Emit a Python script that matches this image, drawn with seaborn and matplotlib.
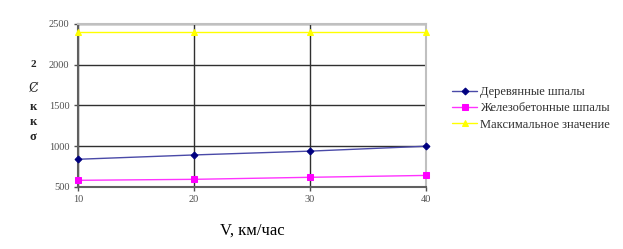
import matplotlib
matplotlib.use("Agg")
import matplotlib.pyplot as plt
import seaborn as sns
import pandas as pd

speeds = [10, 20, 30, 40]
wood = [840, 893, 940, 1000]
concrete = [582, 594, 619, 642]
max_val = [2400, 2400, 2400, 2400]
series_names = ["Деревянные шпалы", "Железобетонные шпалы", "Максимальное значение"]
y_ticks = [500, 1000, 1500, 2000, 2500]

df = pd.DataFrame({
    "V": speeds * 3,
    "val": wood + concrete + max_val,
    "series": [series_names[0]] * 4 + [series_names[1]] * 4 + [series_names[2]] * 4,
})

sns.set_theme(style="white")
plt.rcParams["font.family"] = ["Liberation Serif", "DejaVu Serif"]

fig = plt.figure(figsize=(6.23, 2.49), dpi=100)
ax = fig.add_axes([0.125, 0.249, 0.559, 0.655])

palette = {series_names[0]: "#000080", series_names[1]: "#ff00ff", series_names[2]: "#ffff00"}
line_colors = {series_names[0]: "#4a4aa8", series_names[1]: "#ff33ff", series_names[2]: "#ffff00"}
markers = {series_names[0]: "D", series_names[1]: "s", series_names[2]: "^"}
sizes = {series_names[0]: 3.5, series_names[1]: 4.5, series_names[2]: 5}

for name in series_names:
    sub = df[df["series"] == name]
    sns.lineplot(data=sub, x="V", y="val", ax=ax, color=line_colors[name], lw=1.0,
                 marker=markers[name], markersize=sizes[name], markerfacecolor=palette[name],
                 markeredgecolor=palette[name], label=name, legend=False, clip_on=False, zorder=5)

ax.set_xlim(10, 40)
ax.set_ylim(500, 2500)
ax.set_xticks(speeds)
ax.set_yticks(y_ticks)
ax.grid(True, color="#303030", lw=1.0)
ax.set_axisbelow(True)
for s in ["top", "right"]:
    ax.spines[s].set_color("#c0c0c0")
    ax.spines[s].set_linewidth(1.5)
for s in ["left", "bottom"]:
    ax.spines[s].set_color("#606060")
    ax.spines[s].set_linewidth(1.5)
ax.tick_params(axis="both", labelsize=7.5, colors="#505050", length=3, width=1, direction="out", pad=3)
ax.tick_params(axis="both", which="both", left=True, bottom=True)
ax.set_xlabel("V, км/час", fontsize=12, color="#000000", labelpad=13)
ax.set_ylabel("")

fig.text(0.053, 0.74, "2", fontsize=8, fontweight="bold", ha="center", va="center")
fig.text(0.053, 0.645, "Ȼ", fontsize=9, ha="center", va="center", family=["DejaVu Serif"])
fig.text(0.053, 0.57, "к", fontsize=9, fontweight="bold", ha="center", va="center")
fig.text(0.053, 0.51, "к", fontsize=9, fontweight="bold", ha="center", va="center")
fig.text(0.053, 0.45, "σ", fontsize=9, fontweight="bold", ha="center", va="center")

handles, labels = ax.get_legend_handles_labels()
leg = fig.legend(handles, labels, loc="center left", bbox_to_anchor=(0.708, 0.565), frameon=False,
                 fontsize=9, handlelength=2.0, handletextpad=0.2, labelspacing=0.35)
for t in leg.get_texts():
    t.set_color("#303030")

fig.savefig("out.png", dpi=100)
